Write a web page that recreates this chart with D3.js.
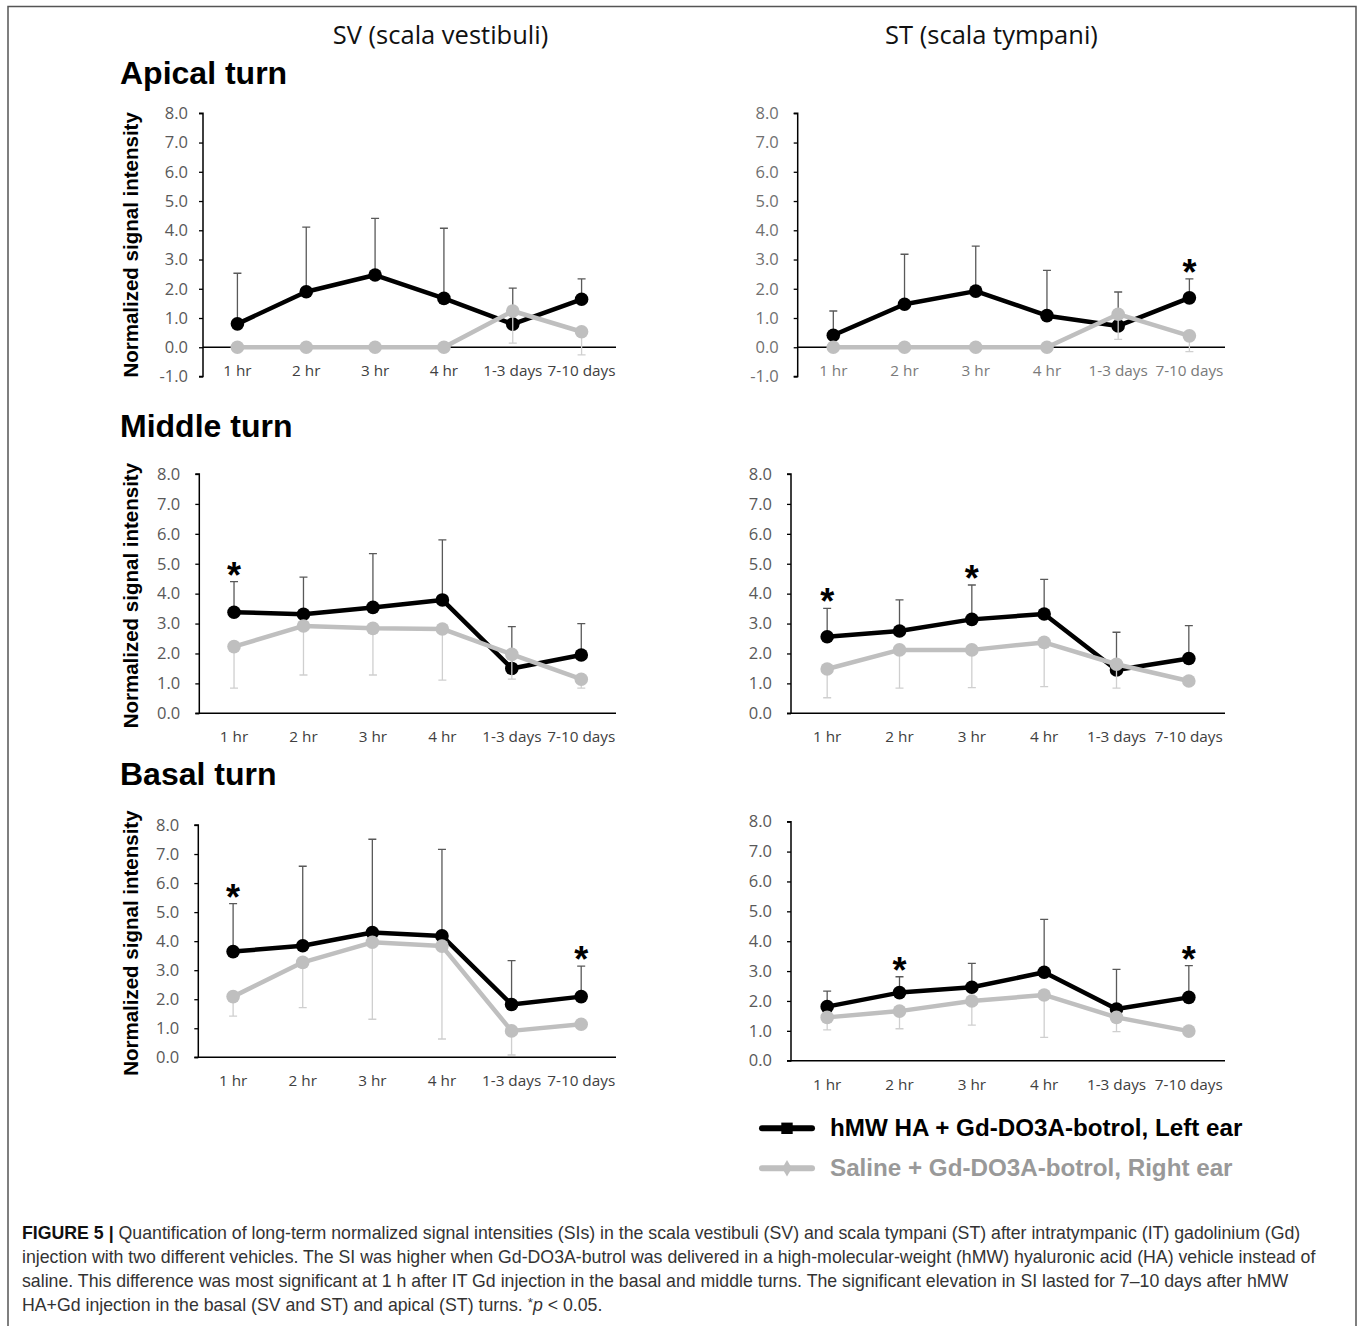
<!DOCTYPE html>
<html>
<head>
<meta charset="utf-8">
<script src="https://cdn.jsdelivr.net/npm/d3@7"></script>
<style>
  body { margin: 0; background: #fff; }
  svg { display: block; }
</style>
</head>
<body>
<svg id="fig" width="1357" height="1326"></svg>
<script>
// Data
const categories = ["1 hr", "2 hr", "3 hr", "4 hr", "1-3 days", "7-10 days"];
const yTicksApical = [-1, 0, 1, 2, 3, 4, 5, 6, 7, 8];
const yTicks = [0, 1, 2, 3, 4, 5, 6, 7, 8];

// hMW HA (left ear): mean and top of the upper error bar
// Saline (right ear): mean and bottom of the lower error bar
const apicalSV_hmw = [0.80, 1.90, 2.47, 1.67, 0.79, 1.64];
const apicalSV_hmwHi = [2.53, 4.11, 4.41, 4.07, 2.02, 2.34];
const apicalSV_sal = [0, 0, 0, 0, 1.24, 0.53];
const apicalSV_salLo = [null, null, null, null, 0.14, -0.26];
const apicalSV_stars = [];

const apicalST_hmw = [0.41, 1.47, 1.92, 1.08, 0.73, 1.69];
const apicalST_hmwHi = [1.24, 3.18, 3.46, 2.63, 1.89, 2.34];
const apicalST_sal = [0, 0, 0, 0, 1.13, 0.39];
const apicalST_salLo = [null, null, null, null, 0.27, -0.15];
const apicalST_stars = [5];

const middleSV_hmw = [3.38, 3.31, 3.54, 3.79, 1.50, 1.95];
const middleSV_hmwHi = [4.40, 4.55, 5.34, 5.80, 2.90, 3.00];
const middleSV_sal = [2.23, 2.92, 2.84, 2.82, 1.97, 1.14];
const middleSV_salLo = [0.84, 1.28, 1.28, 1.11, 1.14, 0.84];
const middleSV_stars = [0];

const middleST_hmw = [2.56, 2.75, 3.14, 3.32, 1.45, 1.83];
const middleST_hmwHi = [3.51, 3.79, 4.29, 4.48, 2.71, 2.93];
const middleST_sal = [1.48, 2.12, 2.12, 2.37, 1.64, 1.08];
const middleST_salLo = [0.52, 0.84, 0.86, 0.89, 0.84, 0.95];
const middleST_stars = [0, 2];

const basalSV_hmw = [3.64, 3.84, 4.30, 4.18, 1.82, 2.09];
const basalSV_hmwHi = [5.29, 6.58, 7.51, 7.16, 3.33, 3.14];
const basalSV_sal = [2.09, 3.27, 3.96, 3.83, 0.91, 1.14];
const basalSV_salLo = [1.42, 1.71, 1.31, 0.63, 0.08, 1.05];
const basalSV_stars = [0, 5];

const basalST_hmw = [1.81, 2.28, 2.46, 2.96, 1.73, 2.12];
const basalST_hmwHi = [2.33, 2.81, 3.26, 4.73, 3.06, 3.18];
const basalST_sal = [1.45, 1.66, 2.00, 2.20, 1.45, 0.99];
const basalST_salLo = [1.03, 1.07, 1.19, 0.78, 0.97, 0.85];
const basalST_stars = [1, 5];

const legendLabels = ["hMW HA + Gd-DO3A-botrol, Left ear", "Saline + Gd-DO3A-botrol, Right ear"];
const colHeaders = ["SV (scala vestibuli)", "ST (scala tympani)"];
const rowTitles = ["Apical turn", "Middle turn", "Basal turn"];
const yLabel = "Normalized signal intensity";

const captionLines = [
  "Quantification of long-term normalized signal intensities (SIs) in the scala vestibuli (SV) and scala tympani (ST) after intratympanic (IT) gadolinium (Gd)",
  "injection with two different vehicles. The SI was higher when Gd-DO3A-butrol was delivered in a high-molecular-weight (hMW) hyaluronic acid (HA) vehicle instead of",
  "saline. This difference was most significant at 1 h after IT Gd injection in the basal and middle turns. The significant elevation in SI lasted for 7\u201310 days after hMW",
  "HA+Gd injection in the basal (SV and ST) and apical (ST) turns. "
];

// Colours
const BLACK = "#000";
const GREY = "#bfbfbf";
const ERR_DARK = "#595959";
const ERR_LIGHT = "#cfcfcf";

const svg = d3.select("#fig");
svg.append("rect").attr("width", 1357).attr("height", 1326).attr("fill", "#fff");

// frame
svg.append("path")
  .attr("d", "M8,1326 V6.5 H1356 V1326")
  .attr("fill", "none").attr("stroke", "#555").attr("stroke-width", 1.5);

// panel frames (pixel layout)
const panels = [
  { x0: 203, x1: 616, yTop: 113.3, yBot: 376.5, dom: [-1, 8], ticks: yTicksApical, pad: 13, label: true, catColor: "#404040", tickColor: "#595959",
    hmw: apicalSV_hmw, hi: apicalSV_hmwHi, sal: apicalSV_sal, lo: apicalSV_salLo, stars: apicalSV_stars },
  { x0: 797.7, x1: 1225, yTop: 113.3, yBot: 376.5, dom: [-1, 8], ticks: yTicksApical, pad: 17, label: false, catColor: "#7a7a7a", tickColor: "#707070",
    hmw: apicalST_hmw, hi: apicalST_hmwHi, sal: apicalST_sal, lo: apicalST_salLo, stars: apicalST_stars },
  { x0: 199.3, x1: 616, yTop: 474, yBot: 713.3, dom: [0, 8], ticks: yTicks, pad: 17, label: true, catColor: "#404040", tickColor: "#595959",
    hmw: middleSV_hmw, hi: middleSV_hmwHi, sal: middleSV_sal, lo: middleSV_salLo, stars: middleSV_stars },
  { x0: 791, x1: 1225, yTop: 474, yBot: 713.3, dom: [0, 8], ticks: yTicks, pad: 17, label: false, catColor: "#404040", tickColor: "#595959",
    hmw: middleST_hmw, hi: middleST_hmwHi, sal: middleST_sal, lo: middleST_salLo, stars: middleST_stars },
  { x0: 198.3, x1: 616, yTop: 825, yBot: 1057.3, dom: [0, 8], ticks: yTicks, pad: 17, label: true, catColor: "#404040", tickColor: "#595959",
    hmw: basalSV_hmw, hi: basalSV_hmwHi, sal: basalSV_sal, lo: basalSV_salLo, stars: basalSV_stars },
  { x0: 791, x1: 1225, yTop: 821.7, yBot: 1060.7, dom: [0, 8], ticks: yTicks, pad: 17, label: false, catColor: "#404040", tickColor: "#595959",
    hmw: basalST_hmw, hi: basalST_hmwHi, sal: basalST_sal, lo: basalST_salLo, stars: basalST_stars }
];

const AX_FONT = "'Open Sans', 'Liberation Sans', sans-serif";
const BOLD_FONT = "'Liberation Sans', Arial, sans-serif";
const fmt = d => d.toFixed(1);   // plain hyphen for -1.0, like the original

panels.forEach(p => {
  const g = svg.append("g");
  const x = d3.scaleBand().domain(categories).range([p.x0, p.x1]).padding(0);
  const y = d3.scaleLinear().domain(p.dom).range([p.yBot, p.yTop]);
  const cx = c => x(c) + x.bandwidth() / 2;
  const y0 = y(0);

  // y axis
  const yAxis = g.append("g")
    .attr("transform", `translate(${p.x0},0)`)
    .call(d3.axisLeft(y).tickValues(p.ticks).tickSize(4).tickPadding(p.pad - 2).tickFormat(fmt));
  yAxis.select(".domain").attr("stroke", BLACK).attr("stroke-width", 1.5).attr("d", `M-4,${p.yBot}H0V${p.yTop}H-4`);
  yAxis.selectAll(".tick line").attr("stroke", BLACK).attr("stroke-width", 1.3);
  yAxis.selectAll(".tick text")
    .attr("fill", p.tickColor).attr("font-family", AX_FONT).attr("font-size", 16.5);

  // x axis at y = 0, no ticks
  const xAxis = g.append("g")
    .attr("transform", `translate(0,${y0})`)
    .call(d3.axisBottom(x).tickSize(0).tickPadding(0));
  xAxis.select(".domain").attr("stroke", BLACK).attr("stroke-width", 1.5).attr("d", `M${p.x0},0H${p.x1}`);
  xAxis.selectAll(".tick text")
    .attr("dy", null).attr("y", 0)
    .attr("transform", `translate(0,${p.dom[0] < 0 ? y(-1) - y0 - 1 : 29})`)
    .attr("fill", p.catColor).attr("font-family", AX_FONT).attr("font-size", 15.3);

  // hMW error bars (upper)
  const eb = g.append("g").attr("stroke", ERR_DARK).attr("stroke-width", 1.3).attr("fill", "none");
  categories.forEach((c, i) => {
    if (p.hi[i] == null) return;
    eb.append("path").attr("d", `M${cx(c)},${y(p.hmw[i])}V${y(p.hi[i])}M${cx(c) - 4},${y(p.hi[i])}H${cx(c) + 4}`);
  });

  // hMW line + markers
  const line = d3.line().x((d, i) => cx(categories[i])).y(d => y(d));
  g.append("path").datum(p.hmw).attr("d", line)
    .attr("fill", "none").attr("stroke", BLACK).attr("stroke-width", 4.5).attr("stroke-linejoin", "round");
  g.selectAll(".mk1").data(p.hmw).enter().append("circle")
    .attr("cx", (d, i) => cx(categories[i])).attr("cy", d => y(d)).attr("r", 6.8).attr("fill", BLACK);

  // saline error bars (lower)
  const eb2 = g.append("g").attr("stroke", ERR_LIGHT).attr("stroke-width", 1.3).attr("fill", "none");
  categories.forEach((c, i) => {
    if (p.lo[i] == null) return;
    eb2.append("path").attr("d", `M${cx(c)},${y(p.sal[i])}V${y(p.lo[i])}M${cx(c) - 4},${y(p.lo[i])}H${cx(c) + 4}`);
  });

  // saline line + markers
  g.append("path").datum(p.sal).attr("d", line)
    .attr("fill", "none").attr("stroke", GREY).attr("stroke-width", 4.5).attr("stroke-linejoin", "round");
  g.selectAll(".mk2").data(p.sal).enter().append("circle")
    .attr("cx", (d, i) => cx(categories[i])).attr("cy", d => y(d)).attr("r", 6.8).attr("fill", GREY);

  // significance stars
  p.stars.forEach(i => {
    g.append("text")
      .attr("x", cx(categories[i])).attr("y", y(p.hi[i]) + 6)
      .attr("text-anchor", "middle").attr("font-family", BOLD_FONT).attr("font-weight", "bold")
      .attr("font-size", 36).attr("fill", BLACK).text("*");
  });

  // y label
  if (p.label) {
    const cy = (p.yTop + p.yBot) / 2 + (p.dom[0] < 0 ? 0 : 2);
    svg.append("text")
      .attr("transform", `translate(138,${cy}) rotate(-90)`)
      .attr("text-anchor", "middle").attr("font-family", BOLD_FONT).attr("font-weight", "bold")
      .attr("font-size", 20.5).attr("fill", BLACK).text(yLabel);
  }
});

// column headers
[440.5, 991.5].forEach((xc, i) => {
  svg.append("text").attr("x", xc).attr("y", 44).attr("text-anchor", "middle")
    .attr("font-family", AX_FONT).attr("font-size", 25.5).attr("fill", "#111").text(colHeaders[i]);
});

// row titles
[84, 437, 785].forEach((yb, i) => {
  svg.append("text").attr("x", 120).attr("y", yb)
    .attr("font-family", BOLD_FONT).attr("font-weight", "bold").attr("font-size", 32)
    .attr("fill", BLACK).text(rowTitles[i]);
});

// legend
const lg = svg.append("g");
const legendItems = [
  { y: 1128.3, color: BLACK, text: "#000", shape: d3.symbolSquare, size: 130 },
  { y: 1168.3, color: GREY, text: "#999", shape: d3.symbolDiamond, size: 80 }
];
legendItems.forEach((it, i) => {
  lg.append("line").attr("x1", 762).attr("x2", 812).attr("y1", it.y).attr("y2", it.y)
    .attr("stroke", it.color).attr("stroke-width", 6).attr("stroke-linecap", "round");
  lg.append("path").attr("d", d3.symbol(it.shape, it.size)())
    .attr("transform", `translate(787,${it.y})`).attr("fill", it.color);
  lg.append("text").attr("x", 830).attr("y", it.y + 7.5)
    .attr("font-family", BOLD_FONT).attr("font-weight", "bold").attr("font-size", 24.2)
    .attr("fill", it.text).text(legendLabels[i]);
});

// caption
const CAP_FONT = "'Liberation Sans', Arial, sans-serif";
const cap = svg.append("g").attr("font-family", CAP_FONT).attr("fill", "#333");
const capTexts = captionLines.map((s, i) => {
  const t = cap.append("text").attr("x", 22).attr("y", 1238.5 + i * 24).attr("font-size", 15);
  if (i === 0) {
    t.append("tspan").attr("font-weight", "bold").attr("fill", "#111").text("FIGURE 5 | ");
  }
  t.append("tspan").text(s);
  if (i === 3) {
    t.append("tspan").attr("font-size", "0.75em").attr("dy", -4).text("*");
    t.append("tspan").attr("font-style", "italic").attr("dy", 4).text("p");
    t.append("tspan").text(" < 0.05.");
  }
  return t;
});
// fit caption width to the figure box
const w0 = capTexts[0].node().getComputedTextLength();
const fs = 15 * 1279 / w0;
capTexts.forEach(t => t.attr("font-size", fs));
</script>
</body>
</html>
